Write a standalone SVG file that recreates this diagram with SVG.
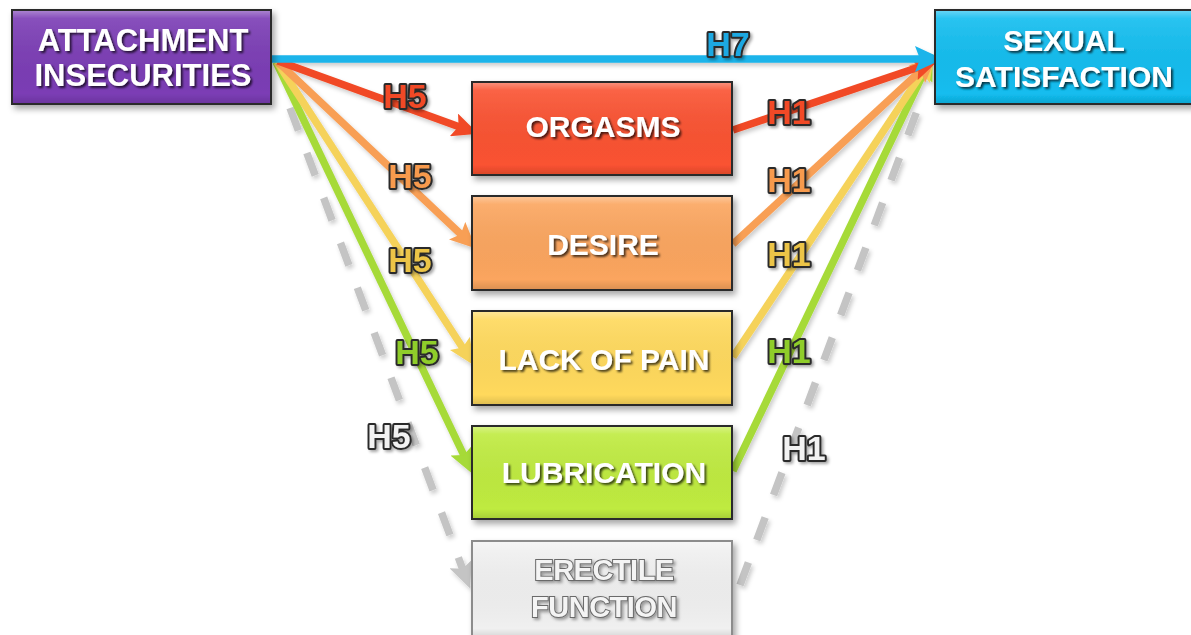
<svg xmlns="http://www.w3.org/2000/svg" width="1191" height="635" viewBox="0 0 1191 635">
<defs>
<style>
.box{stroke:#2b2b2b;stroke-width:2}
.nt{font-family:"Liberation Sans",Arial,sans-serif;font-weight:bold;fill:#ffffff;text-anchor:middle;filter:url(#ts)}
.lbl{font-family:"Liberation Sans",Arial,sans-serif;font-weight:bold;font-size:34px;text-anchor:middle;stroke:#2a2a2a;stroke-width:4;paint-order:stroke;stroke-linejoin:round;filter:url(#ls)}
.ln{fill:none;stroke-width:7.5}
</style>
<filter id="bs" x="-10%" y="-10%" width="125%" height="130%"><feDropShadow dx="3" dy="4" stdDeviation="3" flood-color="#000" flood-opacity="0.35"/></filter>
<filter id="ts" x="-10%" y="-20%" width="120%" height="150%"><feDropShadow dx="2" dy="2" stdDeviation="1.2" flood-color="#000" flood-opacity="0.7"/></filter>
<filter id="ls" x="-20%" y="-20%" width="140%" height="150%"><feDropShadow dx="2" dy="2" stdDeviation="1.5" flood-color="#000" flood-opacity="0.35"/></filter>
<filter id="lsh" x="-10%" y="-10%" width="120%" height="120%"><feDropShadow dx="2" dy="3" stdDeviation="2" flood-color="#000" flood-opacity="0.2"/></filter>
<linearGradient id="gloss" x1="0" y1="0" x2="0" y2="1">
<stop offset="0" stop-color="#fff" stop-opacity="0.35"/>
<stop offset="0.08" stop-color="#fff" stop-opacity="0.1"/>
<stop offset="0.9" stop-color="#000" stop-opacity="0"/>
<stop offset="1" stop-color="#000" stop-opacity="0.12"/>
</linearGradient>
<marker id="aRed" markerUnits="userSpaceOnUse" markerWidth="26" markerHeight="24" refX="15" refY="12" orient="auto"><path d="M0,0 L26,12 L0,24 L5,12 z" fill="#f14a25"/></marker>
<marker id="aOra" markerUnits="userSpaceOnUse" markerWidth="26" markerHeight="24" refX="15" refY="12" orient="auto"><path d="M0,0 L26,12 L0,24 L5,12 z" fill="#f89f55"/></marker>
<marker id="aYel" markerUnits="userSpaceOnUse" markerWidth="26" markerHeight="24" refX="15" refY="12" orient="auto"><path d="M0,0 L26,12 L0,24 L5,12 z" fill="#f5d25a"/></marker>
<marker id="aGrn" markerUnits="userSpaceOnUse" markerWidth="26" markerHeight="24" refX="15" refY="12" orient="auto"><path d="M0,0 L26,12 L0,24 L5,12 z" fill="#a6da37"/></marker>
<marker id="aCya" markerUnits="userSpaceOnUse" markerWidth="28" markerHeight="26" refX="15" refY="13" orient="auto"><path d="M0,0 L28,13 L0,26 L5,13 z" fill="#1cb4ea"/></marker>
<marker id="aGry" markerUnits="userSpaceOnUse" markerWidth="26" markerHeight="24" refX="15" refY="12" orient="auto"><path d="M0,0 L26,12 L0,24 L5,12 z" fill="#c4c4c4"/></marker>
</defs>
<rect width="1191" height="635" fill="#ffffff"/>

<g id="connectors" filter="url(#lsh)">
<line class="ln" x1="290" y1="108" x2="466" y2="578" stroke="#c4c4c4" stroke-dasharray="24 24" marker-end="url(#aGry)"/>
<line class="ln" x1="740" y1="585" x2="918" y2="108" stroke="#c4c4c4" stroke-dasharray="24 24"/>
<line class="ln" x1="276" y1="62" x2="468" y2="464" stroke="#a6da37" marker-end="url(#aGrn)"/>
<line class="ln" x1="277" y1="62" x2="468" y2="356" stroke="#f5d25a" marker-end="url(#aYel)"/>
<line class="ln" x1="278" y1="62" x2="468" y2="241" stroke="#f89f55" marker-end="url(#aOra)"/>
<line class="ln" x1="278" y1="61" x2="468" y2="130" stroke="#f14a25" marker-end="url(#aRed)"/>
<line class="ln" x1="733" y1="471" x2="928" y2="64" stroke="#a6da37" marker-end="url(#aGrn)"/>
<line class="ln" x1="733" y1="357" x2="928" y2="64" stroke="#f5d25a" marker-end="url(#aYel)"/>
<line class="ln" x1="733" y1="244" x2="928" y2="64" stroke="#f89f55" marker-end="url(#aOra)"/>
<line class="ln" x1="733" y1="130" x2="928" y2="64" stroke="#f14a25" marker-end="url(#aRed)"/>
<line class="ln" x1="271" y1="59" x2="930" y2="59" stroke="#1cb4ea" stroke-width="6.5" marker-end="url(#aCya)"/>
</g>

<g id="node-attachment" filter="url(#bs)">
<rect class="box" x="12" y="10" width="259" height="94" fill="#7b3db5"/>
<rect x="13" y="11" width="257" height="92" fill="url(#gloss)"/>
<text class="nt" x="143" y="51" font-size="31">ATTACHMENT</text>
<text class="nt" x="143" y="86" font-size="31">INSECURITIES</text>
</g>

<g id="node-satisfaction" filter="url(#bs)">
<rect class="box" x="935" y="10" width="262" height="94" fill="#12bdef"/>
<rect x="936" y="11" width="260" height="92" fill="url(#gloss)"/>
<text class="nt" x="1064" y="51" font-size="30">SEXUAL</text>
<text class="nt" x="1064" y="87" font-size="30">SATISFACTION</text>
</g>

<g id="node-orgasms" filter="url(#bs)">
<rect class="box" x="472" y="82" width="260" height="93" fill="#fa5231"/>
<rect x="473" y="83" width="258" height="91" fill="url(#gloss)"/>
<text class="nt" x="603" y="137" font-size="30">ORGASMS</text>
</g>

<g id="node-desire" filter="url(#bs)">
<rect class="box" x="472" y="196" width="260" height="94" fill="#fba55e"/>
<rect x="473" y="197" width="258" height="92" fill="url(#gloss)"/>
<text class="nt" x="603" y="255" font-size="30">DESIRE</text>
</g>

<g id="node-lackofpain" filter="url(#bs)">
<rect class="box" x="472" y="311" width="260" height="94" fill="#ffd95c"/>
<rect x="473" y="312" width="258" height="92" fill="url(#gloss)"/>
<text class="nt" x="604" y="370" font-size="30">LACK OF PAIN</text>
</g>

<g id="node-lubrication" filter="url(#bs)">
<rect class="box" x="472" y="426" width="260" height="93" fill="#bfeb3f"/>
<rect x="473" y="427" width="258" height="91" fill="url(#gloss)"/>
<text class="nt" x="604" y="483" font-size="30">LUBRICATION</text>
</g>

<g id="node-erectile" filter="url(#bs)">
<rect x="472" y="541" width="260" height="98" fill="#f0f0f0" stroke="#8c8c8c" stroke-width="2"/>
<rect x="473" y="542" width="258" height="96" fill="url(#gloss)"/>
<text x="604" y="580" font-size="29" font-family="'Liberation Sans',Arial,sans-serif" font-weight="bold" text-anchor="middle" fill="#f4f4f4" stroke="#6a6a6a" stroke-width="2" paint-order="stroke" letter-spacing="-0.5" filter="url(#ls)">ERECTILE</text>
<text x="604" y="617" font-size="29" font-family="'Liberation Sans',Arial,sans-serif" font-weight="bold" text-anchor="middle" fill="#f4f4f4" stroke="#6a6a6a" stroke-width="2" paint-order="stroke" letter-spacing="-0.5" filter="url(#ls)">FUNCTION</text>
</g>

<g id="labels">
<text class="lbl" x="728" y="56" fill="#1ca8e2">H7</text>
<text class="lbl" x="405" y="108" fill="#f14a25">H5</text>
<text class="lbl" x="410" y="188" fill="#f79a4e">H5</text>
<text class="lbl" x="410" y="272" fill="#ecc446">H5</text>
<text class="lbl" x="417" y="364" fill="#8fcd2c">H5</text>
<text class="lbl" x="389" y="448" fill="#f2f2f2" stroke-width="3.5">H5</text>
<text class="lbl" x="789" y="124" fill="#f14a25">H1</text>
<text class="lbl" x="789" y="192" fill="#f79a4e">H1</text>
<text class="lbl" x="789" y="266" fill="#ecc446">H1</text>
<text class="lbl" x="789" y="363" fill="#8fcd2c">H1</text>
<text class="lbl" x="804" y="460" fill="#f2f2f2" stroke-width="3.5">H1</text>
</g>
</svg>
